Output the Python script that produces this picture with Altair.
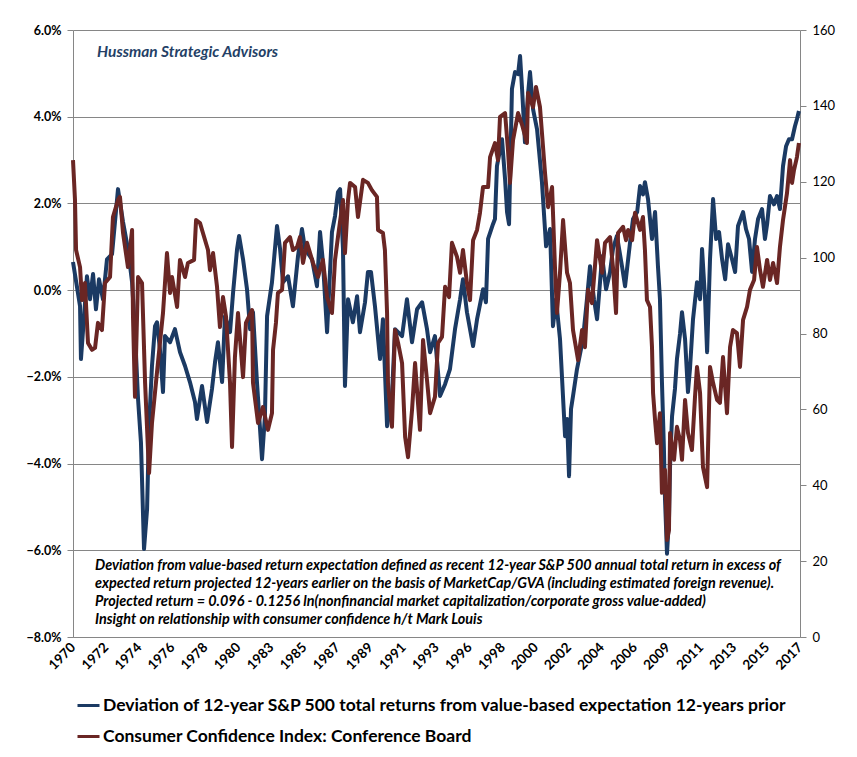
import altair as alt
import pandas as pd

# ---------------- data ----------------
TICK_LABELS = ["1970", "1972", "1974", "1976", "1978", "1980", "1983", "1985", "1987",
               "1989", "1991", "1993", "1996", "1998", "2000", "2002", "2004", "2006",
               "2009", "2011", "2013", "2015", "2017"]
X_START, X_END = 1970.0, 2017.5

DEV_NAME = "Deviation of 12-year S&P 500 total returns from value-based expectation 12-years prior"
CCI_NAME = "Consumer Confidence Index: Conference Board"

# deviation (percent), left axis
DEV_YEARS = [1970.00, 1970.46, 1970.52, 1970.91, 1971.11, 1971.31, 1971.50, 1971.70, 1971.96, 1972.22,
             1972.55, 1972.94, 1973.27, 1973.59, 1973.86, 1974.05, 1974.25, 1974.44, 1974.64, 1974.84,
             1974.97, 1975.16, 1975.36, 1975.49, 1975.68, 1975.88, 1976.01, 1976.34, 1976.66, 1976.99,
             1977.32, 1977.64, 1977.97, 1978.10, 1978.43, 1978.76, 1979.08, 1979.28, 1979.47, 1979.74,
             1979.93, 1980.26, 1980.46, 1980.72, 1980.85, 1981.11, 1981.37, 1981.57, 1981.76, 1982.02,
             1982.35, 1982.54, 1982.68, 1983.00, 1983.33, 1983.53, 1983.72, 1984.05, 1984.37, 1984.70,
             1984.96, 1985.16, 1985.62, 1985.94, 1986.14, 1986.33, 1986.60, 1986.92, 1987.12, 1987.31,
             1987.45, 1987.64, 1987.77, 1987.97, 1988.29, 1988.56, 1988.75, 1989.08, 1989.27, 1989.47,
             1989.73, 1990.06, 1990.25, 1990.52, 1990.84, 1991.04, 1991.50, 1991.82, 1992.15, 1992.48,
             1992.81, 1993.13, 1993.33, 1993.65, 1993.98, 1994.31, 1994.63, 1994.96, 1995.29, 1995.48,
             1995.74, 1995.94, 1996.14, 1996.40, 1996.79, 1996.98, 1997.12, 1997.44, 1997.57, 1997.70,
             1998.03, 1998.23, 1998.36, 1998.49, 1998.68, 1998.88, 1999.08, 1999.21, 1999.34, 1999.53,
             1999.73, 1999.86, 2000.06, 2000.32, 2000.64, 2000.91, 2001.17, 2001.36, 2001.56, 2001.82,
             2002.15, 2002.28, 2002.41, 2002.54, 2002.67, 2002.93, 2003.32, 2003.58, 2003.78, 2004.04,
             2004.24, 2004.57, 2004.83, 2005.09, 2005.28, 2005.54, 2005.87, 2006.07, 2006.40, 2006.59,
             2006.86, 2007.05, 2007.24, 2007.37, 2007.57, 2007.83, 2008.03, 2008.22, 2008.35, 2008.48,
             2008.61, 2008.68, 2008.81, 2008.94, 2009.01, 2009.14, 2009.33, 2009.46, 2009.66, 2009.79,
             2009.99, 2010.18, 2010.31, 2010.51, 2010.77, 2010.97, 2011.10, 2011.30, 2011.43, 2011.62,
             2011.82, 2012.02, 2012.21, 2012.41, 2012.61, 2012.80, 2013.06, 2013.26, 2013.45, 2013.78,
             2013.97, 2014.17, 2014.37, 2014.56, 2014.76, 2015.02, 2015.21, 2015.35, 2015.54, 2015.80,
             2016.00, 2016.19, 2016.39, 2016.59, 2016.78, 2016.98, 2017.17, 2017.30, 2017.43]
DEV_VALUES = [0.65, -0.37, -1.59, 0.32, -0.21, 0.37, -0.44, 0.25, -0.21, 0.71,
              0.83, 2.33, 1.57, 0.95, 0.18, -0.97, -2.51, -3.51, -5.97, -5.05,
              -3.14, -1.75, -0.83, -0.74, -1.36, -2.35, -1.06, -1.20, -0.90, -1.43,
              -1.75, -2.12, -2.58, -2.97, -2.21, -3.04, -2.28, -1.66, -1.20, -2.12,
              -0.60, -0.97, -0.05, 0.95, 1.25, 0.71, 0.02, -0.90, -0.51, -2.12,
              -3.90, -2.91, -0.60, 0.18, 1.48, 0.95, 0.18, 0.32, -0.37, 0.78,
              1.41, 0.95, 0.71, 0.09, 1.34, 0.65, -0.97, 1.34, 1.71, 2.26,
              2.33, 0.95, -2.21, -0.21, -0.74, -0.14, -0.97, -0.28, 0.42, 0.42,
              -0.37, -1.59, -0.67, -3.14, -2.44, -0.90, -1.06, -0.21, -1.20, -0.44,
              -0.28, -0.90, -1.43, -1.06, -2.44, -2.17, -1.82, -0.90, -0.21, 0.25,
              -0.51, -0.90, -1.29, -0.67, 0.02, -0.28, 1.18, 1.52, 1.64, 2.86,
              3.48, 2.56, 1.80, 1.52, 4.64, 5.03, 4.98, 5.40, 4.64, 3.41,
              4.52, 5.03, 4.17, 3.71, 2.49, 1.01, 1.41, -0.83, -0.21, -1.13,
              -3.37, -2.97, -4.29, -2.74, -2.44, -1.82, -1.13, -0.21, 0.55, -0.21,
              -0.67, 0.78, 0.02, 0.42, 0.95, 1.25, 0.55, 0.09, 1.11, 1.64,
              1.80, 2.40, 2.21, 2.49, 2.10, 1.18, 1.80, 0.55, -0.21, -2.12,
              -3.67, -4.82, -6.08, -5.28, -4.06, -2.91, -2.28, -1.59, -1.01, -0.51,
              -1.13, -2.35, -1.82, -0.67, 0.18, -0.21, 0.95, -0.21, -1.43, 0.71,
              2.10, 1.18, 1.34, 0.71, 0.25, 1.06, 0.71, 0.42, 1.48, 1.80,
              1.41, 1.18, 0.42, 1.18, 1.64, 1.87, 1.18, 1.52, 2.17, 1.98,
              2.17, 1.87, 2.86, 3.32, 3.48, 3.48, 3.78, 3.94, 4.13]

# consumer confidence index, right axis
CCI_YEARS = [1970.00, 1970.13, 1970.20, 1970.46, 1970.59, 1970.78, 1970.98, 1971.24, 1971.44, 1971.63,
             1971.89, 1972.09, 1972.42, 1972.61, 1972.94, 1973.07, 1973.27, 1973.59, 1973.86, 1973.92,
             1974.05, 1974.25, 1974.51, 1974.71, 1974.90, 1974.97, 1975.16, 1975.42, 1975.68, 1975.88,
             1976.01, 1976.14, 1976.34, 1976.47, 1976.80, 1976.99, 1977.32, 1977.51, 1977.91, 1978.04,
             1978.30, 1978.49, 1978.82, 1978.95, 1979.15, 1979.41, 1979.60, 1979.80, 1980.00, 1980.26,
             1980.39, 1980.58, 1980.78, 1981.11, 1981.30, 1981.70, 1981.76, 1982.09, 1982.41, 1982.74,
             1983.00, 1983.07, 1983.26, 1983.39, 1983.66, 1983.85, 1984.18, 1984.37, 1984.64, 1984.83,
             1985.03, 1985.29, 1985.49, 1985.68, 1986.01, 1986.33, 1986.60, 1986.92, 1987.12, 1987.31,
             1987.64, 1987.77, 1987.97, 1988.10, 1988.43, 1988.62, 1988.95, 1989.27, 1989.53, 1989.86,
             1989.93, 1990.25, 1990.38, 1990.52, 1990.58, 1990.84, 1991.04, 1991.24, 1991.50, 1991.70,
             1991.89, 1992.15, 1992.35, 1992.67, 1992.87, 1993.13, 1993.33, 1993.65, 1993.85, 1994.11,
             1994.31, 1994.57, 1994.76, 1995.09, 1995.29, 1995.48, 1995.74, 1995.94, 1996.14, 1996.40,
             1996.59, 1996.79, 1997.12, 1997.25, 1997.57, 1997.77, 1997.90, 1998.23, 1998.42, 1998.55,
             1998.75, 1999.08, 1999.34, 1999.66, 1999.73, 2000.06, 2000.25, 2000.51, 2000.64, 2000.84,
             2001.04, 2001.30, 2001.49, 2001.62, 2001.82, 2002.02, 2002.28, 2002.47, 2002.67, 2003.00,
             2003.26, 2003.45, 2003.65, 2003.91, 2004.24, 2004.57, 2004.76, 2005.09, 2005.28, 2005.48,
             2005.61, 2005.94, 2006.13, 2006.27, 2006.53, 2006.72, 2007.05, 2007.24, 2007.37, 2007.50,
             2007.70, 2007.83, 2007.90, 2008.03, 2008.16, 2008.35, 2008.48, 2008.68, 2008.81, 2008.94,
             2009.01, 2009.27, 2009.46, 2009.66, 2009.79, 2009.99, 2010.18, 2010.44, 2010.64, 2010.77,
             2010.97, 2011.16, 2011.43, 2011.62, 2011.82, 2012.08, 2012.27, 2012.47, 2012.73, 2012.93,
             2013.12, 2013.38, 2013.58, 2013.78, 2014.04, 2014.23, 2014.50, 2014.69, 2014.89, 2015.08,
             2015.35, 2015.54, 2015.74, 2016.00, 2016.19, 2016.39, 2016.65, 2016.85, 2016.98, 2017.11,
             2017.30, 2017.43]
CCI_VALUES = [125.7, 115.2, 102.0, 97.5, 88.8, 93.3, 77.5, 75.7, 76.2, 82.8,
              80.9, 93.3, 94.9, 110.7, 115.2, 116.0, 106.5, 97.5, 107.3, 84.4,
              63.3, 94.9, 93.3, 67.0, 49.3, 43.2, 56.4, 67.0, 77.5, 85.4,
              93.3, 101.2, 90.7, 94.9, 87.0, 99.4, 94.9, 98.6, 99.4, 109.9,
              109.1, 106.5, 102.0, 96.7, 101.2, 92.3, 81.7, 89.6, 84.4, 67.0,
              50.1, 73.8, 85.4, 68.5, 82.8, 86.2, 67.0, 56.4, 60.6, 54.6,
              59.0, 75.7, 82.8, 90.7, 91.5, 103.9, 105.4, 102.0, 102.8, 105.4,
              98.6, 103.9, 101.2, 98.6, 94.9, 99.4, 89.6, 85.4, 99.4, 105.4,
              115.2, 101.2, 115.2, 119.7, 118.6, 110.7, 120.5, 119.7, 117.8, 116.0,
              107.3, 106.5, 102.0, 85.4, 67.0, 55.4, 80.9, 77.5, 72.2, 52.7,
              47.4, 59.8, 72.2, 54.6, 78.3, 67.7, 59.0, 63.3, 77.5, 79.1,
              92.3, 89.6, 103.9, 100.2, 96.0, 102.0, 93.3, 88.8, 104.6, 107.3,
              111.8, 118.6, 118.6, 126.5, 130.2, 125.7, 137.1, 138.1, 128.4, 119.7,
              131.0, 138.1, 135.0, 130.2, 143.4, 139.7, 145.0, 139.7, 132.9, 122.3,
              113.3, 118.6, 97.5, 85.4, 96.0, 109.9, 96.0, 93.3, 80.9, 73.0,
              80.9, 76.4, 91.5, 88.0, 104.6, 96.0, 103.9, 105.4, 97.5, 85.4,
              106.5, 108.1, 104.6, 107.3, 104.6, 111.8, 107.3, 110.7, 102.0, 88.8,
              87.0, 76.4, 64.3, 57.2, 51.1, 59.0, 38.0, 44.0, 25.6, 28.2,
              53.8, 46.7, 55.4, 51.9, 46.7, 62.5, 53.8, 49.3, 63.3, 71.2,
              64.3, 44.8, 39.5, 71.2, 67.0, 62.5, 61.7, 73.8, 59.0, 76.4,
              80.9, 80.1, 71.2, 83.6, 87.0, 91.5, 94.1, 102.8, 96.7, 92.3,
              99.4, 94.1, 98.6, 93.3, 102.8, 109.9, 117.0, 125.7, 119.7, 123.1,
              126.5, 130.2]

LEFT_TICKS = [-8, -6, -4, -2, 0, 2, 4, 6]
RIGHT_TICKS = [0, 20, 40, 60, 80, 100, 120, 140, 160]

HEADER = "Hussman  Strategic Advisors"
NOTE_LINES = [
    "Deviation from value-based return expectation defined as recent 12-year S&P 500  annual total return in excess of",
    "expected return  projected 12-years earlier on the basis of MarketCap/GVA (including estimated foreign revenue).",
    "Projected return = 0.096  - 0.1256  ln(nonfinancial market capitalization/corporate gross value-added)",
    "Insight on relationship with consumer confidence h/t Mark Louis",
]

BLUE = "#1B3A63"
RED = "#6A2624"
GRID = "#868686"

# ---------------- chart ----------------
dev_df = pd.DataFrame({"year": DEV_YEARS, "value": DEV_VALUES, "series": DEV_NAME})
cci_df = pd.DataFrame({"year": CCI_YEARS, "value": CCI_VALUES, "series": CCI_NAME})

step = (X_END - X_START) / (len(TICK_LABELS) - 1)
tick_vals = [X_START + i * step for i in range(len(TICK_LABELS))]
label_expr = "[" + ",".join("'%s'" % t for t in TICK_LABELS) + "][round((datum.value - %f) / %f)]" % (X_START, step)

x_enc = alt.X(
    "year:Q",
    scale=alt.Scale(domain=[X_START, X_END], nice=False, zero=False),
    axis=alt.Axis(values=tick_vals, labelExpr=label_expr, title=None, grid=False, ticks=False,
                  labelAngle=315, labelAlign="right", labelBaseline="middle", labelPadding=8,
                  domainColor=GRID, labelFont="Lato", labelFontWeight="bold", labelFontSize=13.5,
                  labelColor="black", labelOverlap=False, labelFlush=False, labelBound=False),
)

color_enc = alt.Color(
    "series:N",
    scale=alt.Scale(domain=[DEV_NAME, CCI_NAME], range=[BLUE, RED]),
    legend=alt.Legend(title=None, orient="none", legendX=3, legendY=663, direction="vertical",
                      symbolType="stroke", symbolStrokeWidth=3, symbolSize=484,
                      labelFont="Lato", labelFontSize=17.5, labelFontWeight="bold", labelColor="black",
                      labelLimit=900, rowPadding=10, labelOffset=2),
)

dev = alt.Chart(dev_df).mark_line(strokeWidth=4, strokeJoin="round").encode(
    x=x_enc,
    y=alt.Y("value:Q", scale=alt.Scale(domain=[-8, 6], nice=False, zero=False),
            axis=alt.Axis(values=LEFT_TICKS, labelExpr="format(datum.value, '.1f') + '%'",
                          orient="left", title=None, grid=True, gridColor=GRID, domainColor=GRID,
                          tickColor=GRID, tickSize=6, labelPadding=6, labelFont="Lato",
                          labelFontWeight="bold", labelFontSize=12.5, labelColor="black")),
    color=color_enc,
    order=alt.Order("year:Q"),
)

cci = alt.Chart(cci_df).mark_line(strokeWidth=4, strokeJoin="round").encode(
    x=x_enc,
    y=alt.Y("value:Q", scale=alt.Scale(domain=[0, 160], nice=False, zero=False),
            axis=alt.Axis(values=RIGHT_TICKS, orient="right", title=None, grid=False,
                          domainColor=GRID, tickColor=GRID, tickSize=6, labelPadding=6,
                          labelFont="Lato", labelFontSize=13, labelColor="black")),
    color=color_enc,
    order=alt.Order("year:Q"),
)

one = pd.DataFrame({"k": [0]})
header = alt.Chart(one).mark_text(
    align="left", baseline="middle", font="Lato", fontStyle="italic", fontWeight="bold",
    fontSize=15.5, color="#243F66",
).encode(x=alt.value(24), y=alt.value(22), text=alt.value(HEADER))

note = alt.Chart(one).mark_text(
    align="left", baseline="top", font="Lato", fontStyle="italic", fontWeight="bold",
    fontSize=14.4, lineHeight=18, color="black",
).encode(x=alt.value(22), y=alt.value(529), text=alt.value(NOTE_LINES))

chart = alt.layer(dev, cci, header, note).resolve_scale(y="independent").properties(
    width=727, height=607,
    autosize=alt.AutoSizeParams(type="none"),
    padding={"left": 65, "top": 22, "right": 45, "bottom": 110},
    background="white",
).configure_view(stroke=None)

chart.save("out.html", embed_options={"renderer": "svg", "actions": False})
